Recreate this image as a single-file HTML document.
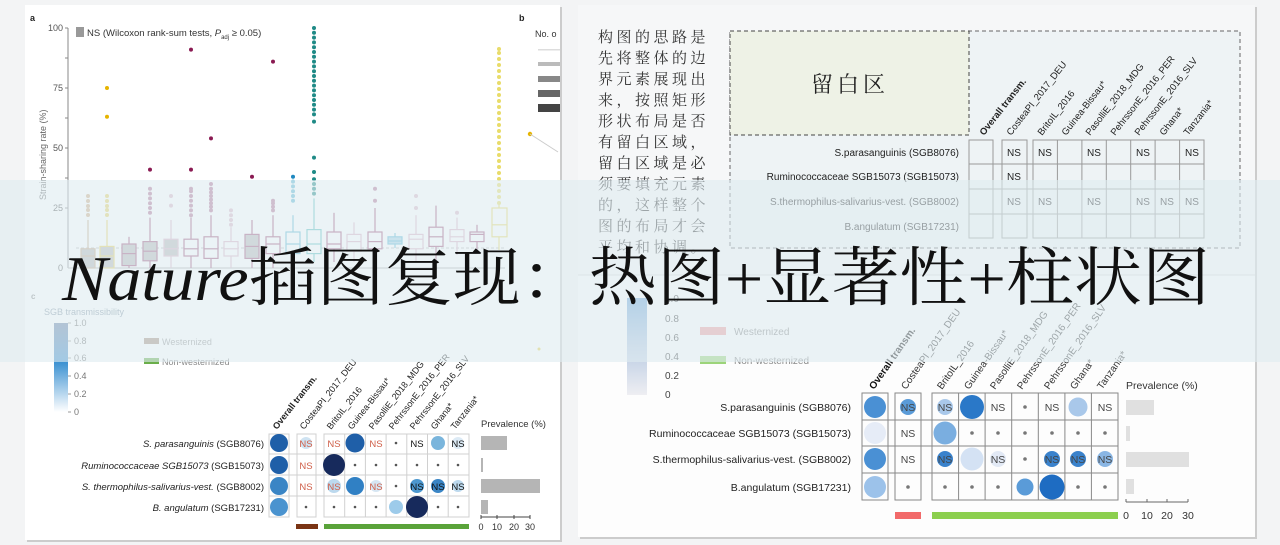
<!DOCTYPE html>
<html><head><meta charset="utf-8"><style>
html,body{margin:0;padding:0;background:#f3f4f5;}
svg{display:block;font-family:"Liberation Sans",Arial,sans-serif;}
</style></head><body>
<svg width="1280" height="545" viewBox="0 0 1280 545" xmlns="http://www.w3.org/2000/svg">
<defs>
<linearGradient id="cbL" x1="0" y1="0" x2="0" y2="1"><stop offset="0" stop-color="#6b83a8"/><stop offset="0.45" stop-color="#3f93d2"/><stop offset="1" stop-color="#ffffff"/></linearGradient>
<linearGradient id="cbR" x1="0" y1="0" x2="0" y2="1"><stop offset="0" stop-color="#6fa6d8"/><stop offset="0.5" stop-color="#b9cbe3"/><stop offset="1" stop-color="#eeeef2"/></linearGradient>
</defs>
<rect width="1280" height="545" fill="#f3f4f5"/>
<!-- left card -->
<rect x="27" y="7" width="535" height="535" fill="#ccc"/>
<rect x="25" y="5" width="535" height="535" fill="#fff"/>
<!-- right cards -->
<rect x="580" y="7" width="677" height="532" fill="#ccc"/>
<rect x="578" y="5" width="677" height="270" fill="#f6f7f8"/>
<rect x="578" y="275" width="677" height="262" fill="#fdfdfd"/>
<line x1="578" y1="275" x2="1255" y2="275" stroke="#d8d8d8"/>

<!-- ===== Panel a ===== -->
<text x="30" y="21" font-size="9" font-weight="bold" fill="#222">a</text>
<g font-size="9" fill="#555" text-anchor="end">
<text x="63" y="31">100</text><text x="63" y="91">75</text><text x="63" y="151">50</text><text x="63" y="211">25</text><text x="63" y="271">0</text>
</g>
<line x1="68" y1="28" x2="68" y2="268" stroke="#888"/>
<line x1="68" y1="268" x2="505" y2="268" stroke="#aaa"/>
<g stroke="#888"><line x1="65" y1="28" x2="68" y2="28"/><line x1="65" y1="88" x2="68" y2="88"/><line x1="65" y1="148" x2="68" y2="148"/><line x1="65" y1="208" x2="68" y2="208"/><line x1="65" y1="58" x2="68" y2="58"/><line x1="65" y1="118" x2="68" y2="118"/><line x1="65" y1="178" x2="68" y2="178"/></g>
<text transform="translate(46,200) rotate(-90)" font-size="9" fill="#666">Strain-sharing rate (%)</text>
<rect x="76" y="27" width="8" height="10" fill="#999"/>
<text x="87" y="36" font-size="9.5" fill="#333">NS (Wilcoxon rank-sum tests, <tspan font-style="italic">P</tspan><tspan font-size="6" dy="3">adj</tspan><tspan dy="-3"> ≥ 0.05)</tspan></text>
<line x1="76" y1="248" x2="505" y2="248" stroke="#bbb" stroke-dasharray="3,2"/>
<g stroke-width="1.2" fill="none">
<!-- boxes: whisker, box, median -->
<g stroke="#c8a98a"><line x1="88" y1="220" x2="88" y2="268"/><rect x="81" y="248.8" width="14" height="19.2" fill="#b9b9b9"/><line x1="81" y1="256" x2="95" y2="256"/></g>
<g stroke="#e6cf60"><line x1="107" y1="220" x2="107" y2="268"/><rect x="100" y="246.4" width="14" height="21.6" fill="#bcbcbc"/><line x1="100" y1="256" x2="114" y2="256"/></g>
<g stroke="#a3587f"><line x1="129" y1="236.8" x2="129" y2="268"/><rect x="122" y="244" width="14" height="21.6" fill="#bcbcbc"/><line x1="122" y1="253.6" x2="136" y2="253.6"/></g>
<g stroke="#a3587f"><line x1="150" y1="217.6" x2="150" y2="268"/><rect x="143" y="241.6" width="14" height="19.2" fill="#bcbcbc"/><line x1="143" y1="251.2" x2="157" y2="251.2"/></g>
<g stroke="#dcb3c6"><line x1="171" y1="220" x2="171" y2="268"/><rect x="164" y="239.2" width="14" height="16.8" fill="#bcbcbc"/><line x1="164" y1="248.8" x2="178" y2="248.8"/></g>
<g stroke="#a3587f"><line x1="191" y1="217.6" x2="191" y2="268"/><rect x="184" y="239.2" width="14" height="16.8" fill="#fff"/><line x1="184" y1="248.8" x2="198" y2="248.8"/></g>
<g stroke="#a3587f"><line x1="211" y1="215.2" x2="211" y2="268"/><rect x="204" y="236.8" width="14" height="21.6" fill="#fff"/><line x1="204" y1="248.8" x2="218" y2="248.8"/></g>
<g stroke="#dcb3c6"><line x1="231" y1="227.2" x2="231" y2="268"/><rect x="224" y="241.6" width="14" height="14.4" fill="#fff"/><line x1="224" y1="248.8" x2="238" y2="248.8"/></g>
<g stroke="#a3587f"><line x1="252" y1="220" x2="252" y2="268"/><rect x="245" y="234.4" width="14" height="24" fill="#bcbcbc"/><line x1="245" y1="246.4" x2="259" y2="246.4"/></g>
<g stroke="#a3587f"><line x1="273" y1="215.2" x2="273" y2="268"/><rect x="266" y="236.8" width="14" height="16.8" fill="#fff"/><line x1="266" y1="244" x2="280" y2="244"/></g>
<g stroke="#5fb8d6"><line x1="293" y1="215.2" x2="293" y2="262"/><rect x="286" y="232" width="14" height="21.6" fill="#fff"/><line x1="286" y1="244" x2="300" y2="244"/></g>
<g stroke="#5fc0c0"><line x1="314" y1="198.4" x2="314" y2="262"/><rect x="307" y="229.6" width="14" height="24" fill="#fff"/><line x1="307" y1="244" x2="321" y2="244"/></g>
<g stroke="#a3587f"><line x1="334" y1="212.8" x2="334" y2="262"/><rect x="327" y="232" width="14" height="16.8" fill="#fff"/><line x1="327" y1="244" x2="341" y2="244"/></g>
<g stroke="#dcb3c6"><line x1="354" y1="222.4" x2="354" y2="262"/><rect x="347" y="234.4" width="14" height="16.8" fill="#fff"/><line x1="347" y1="241.6" x2="361" y2="241.6"/></g>
<g stroke="#a3587f"><line x1="375" y1="208" x2="375" y2="262"/><rect x="368" y="232" width="14" height="16.8" fill="#fff"/><line x1="368" y1="241.6" x2="382" y2="241.6"/></g>
<g stroke="#5fb8d6"><line x1="395" y1="233" x2="395" y2="248"/><rect x="388" y="236.8" width="14" height="7.2" fill="#a8d4e8"/><line x1="388" y1="241" x2="402" y2="241"/></g>
<g stroke="#dcb3c6"><line x1="416" y1="215.2" x2="416" y2="262"/><rect x="409" y="234.4" width="14" height="14.4" fill="#fff"/><line x1="409" y1="239.2" x2="423" y2="239.2"/></g>
<g stroke="#a3587f"><line x1="436" y1="205.6" x2="436" y2="262"/><rect x="429" y="227.2" width="14" height="19.2" fill="#fff"/><line x1="429" y1="236.8" x2="443" y2="236.8"/></g>
<g stroke="#dcb3c6"><line x1="457" y1="217.6" x2="457" y2="255"/><rect x="450" y="229.6" width="14" height="12" fill="#fff"/><line x1="450" y1="236.8" x2="464" y2="236.8"/></g>
<g stroke="#a3587f"><line x1="477" y1="224.8" x2="477" y2="251"/><rect x="470" y="232" width="14" height="9.6" fill="#fff"/><line x1="470" y1="234.4" x2="484" y2="234.4"/></g>
<g stroke="#e6d868"><line x1="499" y1="205" x2="499" y2="250"/><rect x="492" y="208" width="15" height="28.8" fill="#fff"/><line x1="492" y1="224.8" x2="507" y2="224.8"/></g>
</g>
<!-- outliers -->
<g fill="#d2b08c"><circle cx="88" cy="215" r="2"/><circle cx="88" cy="210" r="2"/><circle cx="88" cy="206" r="2"/><circle cx="88" cy="201" r="2"/><circle cx="88" cy="196" r="2"/></g>
<g fill="#e8d36a"><circle cx="107" cy="215" r="2"/><circle cx="107" cy="210" r="2"/><circle cx="107" cy="206" r="2"/><circle cx="107" cy="201" r="2"/><circle cx="107" cy="196" r="2"/></g>
<g fill="#e6b400"><circle cx="107" cy="116.8" r="2"/><circle cx="107" cy="88" r="2"/></g>
<g fill="#b67898"><circle cx="150" cy="212.8" r="2"/><circle cx="150" cy="208" r="2"/><circle cx="150" cy="203.2" r="2"/><circle cx="150" cy="198.4" r="2"/><circle cx="150" cy="193.6" r="2"/><circle cx="150" cy="188.8" r="2"/>
<circle cx="191" cy="215.2" r="2"/><circle cx="191" cy="210.4" r="2"/><circle cx="191" cy="205.6" r="2"/><circle cx="191" cy="200.8" r="2"/><circle cx="191" cy="196" r="2"/><circle cx="191" cy="191.2" r="2"/><circle cx="191" cy="188.8" r="2"/>
<circle cx="211" cy="210.4" r="2"/><circle cx="211" cy="206.8" r="2"/><circle cx="211" cy="203.2" r="2"/><circle cx="211" cy="199.6" r="2"/><circle cx="211" cy="196" r="2"/><circle cx="211" cy="192.4" r="2"/><circle cx="211" cy="188.8" r="2"/><circle cx="211" cy="184" r="2"/>
<circle cx="273" cy="210.4" r="2"/><circle cx="273" cy="206.8" r="2"/><circle cx="273" cy="203.2" r="2"/><circle cx="273" cy="200.8" r="2"/>
<circle cx="375" cy="200.8" r="2"/><circle cx="375" cy="188.8" r="2"/></g>
<g fill="#dcb8c8"><circle cx="171" cy="205.6" r="2"/><circle cx="171" cy="196" r="2"/><circle cx="231" cy="224.8" r="2"/><circle cx="231" cy="220" r="2"/><circle cx="231" cy="215.2" r="2"/><circle cx="231" cy="210.4" r="2"/><circle cx="416" cy="208" r="2"/><circle cx="416" cy="196" r="2"/><circle cx="457" cy="212.8" r="2"/></g>
<g fill="#8a1a52"><circle cx="150" cy="169.6" r="2"/><circle cx="191" cy="169.6" r="2"/><circle cx="191" cy="49.6" r="2"/><circle cx="211" cy="138.4" r="2"/><circle cx="252" cy="176.8" r="2"/><circle cx="273" cy="61.6" r="2"/></g>
<g fill="#5fb8d6"><circle cx="293" cy="200.8" r="2"/><circle cx="293" cy="196" r="2"/><circle cx="293" cy="191.2" r="2"/><circle cx="293" cy="186.4" r="2"/><circle cx="293" cy="181.6" r="2"/></g>
<circle cx="293" cy="176.8" r="2" fill="#1e88c0"/>
<g fill="#1f8a86"><circle cx="314" cy="193.6" r="2"/><circle cx="314" cy="188.8" r="2"/><circle cx="314" cy="184" r="2"/><circle cx="314" cy="179.2" r="2"/><circle cx="314" cy="172" r="2"/><circle cx="314" cy="157.6" r="2"/><circle cx="314" cy="121.6" r="2"/><circle cx="314" cy="114.4" r="2"/><circle cx="314" cy="109.6" r="2"/><circle cx="314" cy="104.8" r="2"/><circle cx="314" cy="100" r="2"/><circle cx="314" cy="95.2" r="2"/><circle cx="314" cy="90.4" r="2"/><circle cx="314" cy="85.6" r="2"/><circle cx="314" cy="80.8" r="2"/><circle cx="314" cy="76" r="2"/><circle cx="314" cy="71.2" r="2"/><circle cx="314" cy="66.4" r="2"/><circle cx="314" cy="61.6" r="2"/><circle cx="314" cy="56.8" r="2"/><circle cx="314" cy="52" r="2"/><circle cx="314" cy="47.2" r="2"/><circle cx="314" cy="42.4" r="2"/><circle cx="314" cy="37.6" r="2"/><circle cx="314" cy="32.8" r="2"/><circle cx="314" cy="28" r="2"/></g>
<g fill="#e8dc6a"><circle cx="499" cy="203" r="2"/><circle cx="499" cy="197" r="2"/><circle cx="499" cy="191" r="2"/><circle cx="499" cy="185" r="2"/><circle cx="499" cy="179" r="2"/><circle cx="499" cy="173" r="2"/><circle cx="499" cy="167" r="2"/><circle cx="499" cy="161" r="2"/><circle cx="499" cy="155" r="2"/><circle cx="499" cy="149" r="2"/><circle cx="499" cy="143" r="2"/><circle cx="499" cy="137" r="2"/><circle cx="499" cy="131" r="2"/><circle cx="499" cy="125" r="2"/><circle cx="499" cy="119" r="2"/><circle cx="499" cy="113" r="2"/><circle cx="499" cy="107" r="2"/><circle cx="499" cy="101" r="2"/><circle cx="499" cy="95" r="2"/><circle cx="499" cy="89" r="2"/><circle cx="499" cy="83" r="2"/><circle cx="499" cy="77" r="2"/><circle cx="499" cy="71" r="2"/><circle cx="499" cy="65" r="2"/><circle cx="499" cy="59" r="2"/><circle cx="499" cy="53" r="2"/><circle cx="499" cy="49" r="2"/></g>
<!-- panel b fragment -->
<text x="519" y="21" font-size="9" font-weight="bold" fill="#222">b</text>
<text x="535" y="37" font-size="9" fill="#333">No. o</text>
<rect x="538" y="49" width="22" height="1.5" fill="#ddd"/><rect x="538" y="62" width="22" height="4" fill="#bbb"/><rect x="538" y="76" width="22" height="6" fill="#888"/><rect x="538" y="90" width="22" height="7" fill="#666"/><rect x="538" y="104" width="22" height="8" fill="#444"/>
<circle cx="530" cy="134" r="2.2" fill="#e6b400"/><line x1="530" y1="134" x2="558" y2="152" stroke="#ccc"/>
<circle cx="539" cy="349" r="1.5" fill="#e6d050"/>

<!-- ===== Panel c ===== -->
<text x="31" y="299" font-size="8" fill="#888" font-weight="bold">c</text>
<text x="44" y="315" font-size="9" fill="#8a9aa8">SGB transmissibility</text>
<rect x="54" y="323" width="14" height="89" fill="url(#cbL)"/>
<g font-size="9" fill="#777"><text x="74" y="326">1.0</text><text x="74" y="344">0.8</text><text x="74" y="361">0.6</text><text x="74" y="379">0.4</text><text x="74" y="397">0.2</text><text x="74" y="415">0</text></g>
<g stroke="#999"><line x1="68" y1="323" x2="71" y2="323"/><line x1="68" y1="341" x2="71" y2="341"/><line x1="68" y1="358" x2="71" y2="358"/><line x1="68" y1="376" x2="71" y2="376"/><line x1="68" y1="394" x2="71" y2="394"/><line x1="68" y1="412" x2="71" y2="412"/></g>
<rect x="144" y="338" width="15" height="6" fill="#a89080"/><text x="162" y="345" font-size="9" fill="#999">Westernized</text>
<rect x="144" y="358" width="15" height="6" fill="#6aae4a"/><text x="162" y="365" font-size="9" fill="#888">Non-westernized</text>
<!-- grid -->
<g fill="none" stroke="#d0d0d0">
<rect x="269" y="434" width="20" height="83"/><rect x="297" y="434" width="19" height="83"/><rect x="324" y="434" width="145" height="83"/>
<line x1="344.7" y1="434" x2="344.7" y2="517"/><line x1="365.4" y1="434" x2="365.4" y2="517"/><line x1="386.1" y1="434" x2="386.1" y2="517"/><line x1="406.8" y1="434" x2="406.8" y2="517"/><line x1="427.5" y1="434" x2="427.5" y2="517"/><line x1="448.2" y1="434" x2="448.2" y2="517"/>
<line x1="269" y1="454" x2="469" y2="454"/><line x1="269" y1="475" x2="469" y2="475"/><line x1="269" y1="496" x2="469" y2="496"/>
</g>
<g font-size="9.5" fill="#222" text-anchor="end">
<text x="264" y="447"><tspan font-style="italic">S. parasanguinis</tspan> (SGB8076)</text>
<text x="264" y="469"><tspan font-style="italic">Ruminococcaceae SGB15073</tspan> (SGB15073)</text>
<text x="264" y="490"><tspan font-style="italic">S. thermophilus-salivarius-vest.</tspan> (SGB8002)</text>
<text x="264" y="511"><tspan font-style="italic">B. angulatum</tspan> (SGB17231)</text>
</g>
<g font-size="9" fill="#222">
<text transform="translate(277,430) rotate(-52)" font-weight="bold">Overall transm.</text>
<text transform="translate(304,430) rotate(-52)">CosteaPI_2017_DEU</text>
<text transform="translate(331,430) rotate(-52)">BritoIL_2016</text>
<text transform="translate(352,430) rotate(-52)">Guinea-Bissau*</text>
<text transform="translate(373,430) rotate(-52)">PasolliE_2018_MDG</text>
<text transform="translate(393,430) rotate(-52)">PehrssonE_2016_PER</text>
<text transform="translate(414,430) rotate(-52)">PehrssonE_2016_SLV</text>
<text transform="translate(435,430) rotate(-52)">Ghana*</text>
<text transform="translate(455,430) rotate(-52)">Tanzania*</text>
</g>
<!-- circles left -->
<circle cx="279" cy="443" r="9" fill="#1f5fa8"/><circle cx="279" cy="465" r="9" fill="#1f5fa8"/><circle cx="279" cy="486" r="9" fill="#3a85c5"/><circle cx="279" cy="507" r="9" fill="#4a93cf"/>
<circle cx="306" cy="443" r="6" fill="#cfe3f2"/>
<circle cx="334" cy="486" r="7" fill="#bcd9ee"/>
<circle cx="355" cy="443" r="9.5" fill="#1f5fa8"/><circle cx="355" cy="486" r="9" fill="#3080c4"/>
<circle cx="334" cy="465" r="11" fill="#172a5c"/>
<circle cx="376" cy="486" r="6" fill="#d6e6f3"/>
<circle cx="417" cy="486" r="7" fill="#4d98cf"/><circle cx="438" cy="486" r="7" fill="#3a85c5"/><circle cx="458" cy="486" r="6" fill="#bcd9ee"/>
<circle cx="438" cy="443" r="7" fill="#7ab5dc"/><circle cx="458" cy="443" r="6" fill="#dceaf5"/>
<circle cx="396" cy="507" r="7" fill="#9dcbea"/><circle cx="417" cy="507" r="11" fill="#172a5c"/>
<g fill="#555"><circle cx="396" cy="443" r="1.3"/><circle cx="355" cy="465" r="1.3"/><circle cx="376" cy="465" r="1.3"/><circle cx="396" cy="465" r="1.3"/><circle cx="417" cy="465" r="1.3"/><circle cx="438" cy="465" r="1.3"/><circle cx="458" cy="465" r="1.3"/><circle cx="396" cy="486" r="1.3"/><circle cx="306" cy="507" r="1.3"/><circle cx="334" cy="507" r="1.3"/><circle cx="355" cy="507" r="1.3"/><circle cx="376" cy="507" r="1.3"/><circle cx="438" cy="507" r="1.3"/><circle cx="458" cy="507" r="1.3"/></g>
<g font-size="9.5" text-anchor="middle">
<g fill="#d0604a"><text x="306" y="447">NS</text><text x="306" y="469">NS</text><text x="306" y="490">NS</text><text x="334" y="447">NS</text><text x="376" y="447">NS</text><text x="334" y="490">NS</text><text x="376" y="490">NS</text></g>
<g fill="#111"><text x="417" y="447">NS</text><text x="458" y="447">NS</text><text x="417" y="490">NS</text><text x="438" y="490">NS</text><text x="458" y="490">NS</text></g>
</g>
<!-- prevalence left -->
<text x="481" y="427" font-size="9.5" fill="#333">Prevalence (%)</text>
<g fill="#b5b5b5"><rect x="481" y="436" width="26" height="14"/><rect x="481" y="458" width="2" height="14"/><rect x="481" y="479" width="59" height="14"/><rect x="481" y="500" width="7" height="14"/></g>
<line x1="481" y1="517" x2="530" y2="517" stroke="#444"/>
<g stroke="#444"><line x1="481" y1="515" x2="481" y2="519"/><line x1="497" y1="515" x2="497" y2="519"/><line x1="514" y1="515" x2="514" y2="519"/><line x1="530" y1="515" x2="530" y2="519"/></g>
<g font-size="9" fill="#333" text-anchor="middle"><text x="481" y="530">0</text><text x="497" y="530">10</text><text x="514" y="530">20</text><text x="530" y="530">30</text></g>
<rect x="296" y="524" width="22" height="5" fill="#7a3414"/>
<rect x="324" y="524" width="145" height="5" fill="#5aa33a"/>

<!-- ===== right top ===== -->
<g font-family="'Noto Serif CJK SC','Noto Sans CJK SC',serif" font-size="15" fill="#333" letter-spacing="3.5">
<text x="598" y="42">构图的思路是</text><text x="598" y="63">先将整体的边</text><text x="598" y="84">界元素展现出</text><text x="598" y="105">来，按照矩形</text><text x="598" y="126">形状布局是否</text><text x="598" y="147">有留白区域，</text><text x="598" y="168">留白区域是必</text><text x="598" y="189">须要填充元素</text><text x="598" y="210">的，这样整个</text><text x="598" y="231">图的布局才会</text><text x="598" y="252">平均和协调。</text>
</g>
<rect x="730" y="31" width="510" height="217" fill="#eef3f5" stroke="#666" stroke-dasharray="4,3"/>
<rect x="730" y="31" width="239" height="104" fill="#eef2e6" stroke="#444" stroke-dasharray="4,3"/>
<text x="850" y="92" font-size="22" text-anchor="middle" fill="#222" font-family="'Noto Serif CJK SC',serif" letter-spacing="4">留白区</text>
<g fill="none" stroke="#999">
<rect x="969" y="140" width="24" height="98"/><rect x="1002" y="140" width="25" height="98"/><rect x="1033" y="140" width="171" height="98"/>
<line x1="1057.4" y1="140" x2="1057.4" y2="238"/><line x1="1081.9" y1="140" x2="1081.9" y2="238"/><line x1="1106.3" y1="140" x2="1106.3" y2="238"/><line x1="1130.7" y1="140" x2="1130.7" y2="238"/><line x1="1155.1" y1="140" x2="1155.1" y2="238"/><line x1="1179.6" y1="140" x2="1179.6" y2="238"/>
<line x1="969" y1="164" x2="1204" y2="164"/><line x1="969" y1="189" x2="1204" y2="189"/><line x1="969" y1="214" x2="1204" y2="214"/>
</g>
<g font-size="10" fill="#222" text-anchor="end">
<text x="959" y="156">S.parasanguinis (SGB8076)</text><text x="959" y="180">Ruminococcaceae SGB15073 (SGB15073)</text><text x="959" y="205">S.thermophilus-salivarius-vest. (SGB8002)</text><text x="959" y="230">B.angulatum (SGB17231)</text>
</g>
<g font-size="9.5" fill="#222">
<text transform="translate(984,136) rotate(-52)" font-weight="bold">Overall transm.</text>
<text transform="translate(1011,136) rotate(-52)">CosteaPI_2017_DEU</text>
<text transform="translate(1042,136) rotate(-52)">BritoIL_2016</text>
<text transform="translate(1066,136) rotate(-52)">Guinea-Bissau*</text>
<text transform="translate(1090,136) rotate(-52)">PasolliE_2018_MDG</text>
<text transform="translate(1115,136) rotate(-52)">PehrssonE_2016_PER</text>
<text transform="translate(1139,136) rotate(-52)">PehrssonE_2016_SLV</text>
<text transform="translate(1164,136) rotate(-52)">Ghana*</text>
<text transform="translate(1188,136) rotate(-52)">Tanzania*</text>
</g>
<g font-size="10" fill="#222" text-anchor="middle">
<text x="1014" y="156">NS</text><text x="1014" y="180">NS</text><text x="1014" y="205">NS</text>
<text x="1045" y="156">NS</text><text x="1094" y="156">NS</text><text x="1143" y="156">NS</text><text x="1192" y="156">NS</text>
<text x="1045" y="205">NS</text><text x="1094" y="205">NS</text><text x="1143" y="205">NS</text><text x="1167" y="205">NS</text><text x="1192" y="205">NS</text>
</g>

<!-- ===== right bottom ===== -->
<rect x="627" y="298" width="20" height="97" fill="url(#cbR)"/>
<g font-size="10" fill="#444"><text x="665" y="302">1.0</text><text x="665" y="322">0.8</text><text x="665" y="341">0.6</text><text x="665" y="360">0.4</text><text x="665" y="379">0.2</text><text x="665" y="398">0</text></g>
<rect x="700" y="327" width="26" height="8" fill="#f0a0a0"/><text x="734" y="335" font-size="10" fill="#888">Westernized</text>
<rect x="700" y="356" width="26" height="8" fill="#9cd47a"/><text x="734" y="364" font-size="10" fill="#888">Non-westernized</text>
<g fill="none" stroke="#888">
<rect x="862" y="393" width="26" height="107"/><rect x="895" y="393" width="26" height="107"/><rect x="932" y="393" width="186" height="107"/>
<line x1="958.6" y1="393" x2="958.6" y2="500"/><line x1="985.1" y1="393" x2="985.1" y2="500"/><line x1="1011.7" y1="393" x2="1011.7" y2="500"/><line x1="1038.3" y1="393" x2="1038.3" y2="500"/><line x1="1064.9" y1="393" x2="1064.9" y2="500"/><line x1="1091.4" y1="393" x2="1091.4" y2="500"/>
<line x1="862" y1="420" x2="1118" y2="420"/><line x1="862" y1="446" x2="1118" y2="446"/><line x1="862" y1="473" x2="1118" y2="473"/>
</g>
<g font-size="10.5" fill="#222" text-anchor="end">
<text x="851" y="411">S.parasanguinis (SGB8076)</text><text x="851" y="437">Ruminococcaceae SGB15073 (SGB15073)</text><text x="851" y="463">S.thermophilus-salivarius-vest. (SGB8002)</text><text x="851" y="491">B.angulatum (SGB17231)</text>
</g>
<g font-size="10" fill="#333">
<text transform="translate(874,390) rotate(-55)" font-weight="bold" fill="#111">Overall transm.</text>
<text transform="translate(906,390) rotate(-55)">CosteaPI_2017_DEU</text>
<text transform="translate(942,390) rotate(-55)">BritoIL_2016</text>
<text transform="translate(969,390) rotate(-55)">Guinea-Bissau*</text>
<text transform="translate(995,390) rotate(-55)">PasolliE_2018_MDG</text>
<text transform="translate(1022,390) rotate(-55)">PehrssonE_2016_PER</text>
<text transform="translate(1049,390) rotate(-55)">PehrssonE_2016_SLV</text>
<text transform="translate(1075,390) rotate(-55)">Ghana*</text>
<text transform="translate(1102,390) rotate(-55)">Tanzania*</text>
</g>
<circle cx="875" cy="407" r="11" fill="#4a90d4"/><circle cx="875" cy="433" r="11" fill="#e6ecf7"/><circle cx="875" cy="459" r="11" fill="#4a90d4"/><circle cx="875" cy="487" r="11" fill="#9cc2ea"/>
<circle cx="908" cy="407" r="8" fill="#5a9bd8"/>
<circle cx="945" cy="407" r="8" fill="#a9c8ea"/><circle cx="972" cy="407" r="12" fill="#2a78c8"/><circle cx="1078" cy="407" r="9.5" fill="#a9c8ea"/>
<circle cx="945" cy="433" r="11.5" fill="#7aaee0"/>
<circle cx="945" cy="459" r="8" fill="#3a82cc"/><circle cx="972" cy="459" r="11.5" fill="#d4e2f4"/><circle cx="998" cy="459" r="8" fill="#e2e9f5"/><circle cx="1052" cy="459" r="8" fill="#3a82cc"/><circle cx="1078" cy="459" r="8" fill="#3a82cc"/><circle cx="1105" cy="459" r="8" fill="#8ab6e4"/>
<circle cx="1025" cy="487" r="8.5" fill="#5a9bd8"/><circle cx="1052" cy="487" r="12.5" fill="#1e6cc2"/>
<g fill="#777"><circle cx="1025" cy="407" r="1.8"/><circle cx="972" cy="433" r="1.8"/><circle cx="998" cy="433" r="1.8"/><circle cx="1025" cy="433" r="1.8"/><circle cx="1052" cy="433" r="1.8"/><circle cx="1078" cy="433" r="1.8"/><circle cx="1105" cy="433" r="1.8"/><circle cx="1025" cy="459" r="1.8"/><circle cx="908" cy="487" r="1.8"/><circle cx="945" cy="487" r="1.8"/><circle cx="972" cy="487" r="1.8"/><circle cx="998" cy="487" r="1.8"/><circle cx="1078" cy="487" r="1.8"/><circle cx="1105" cy="487" r="1.8"/></g>
<g font-size="10.5" fill="#444" text-anchor="middle">
<text x="908" y="411">NS</text><text x="945" y="411">NS</text><text x="998" y="411">NS</text><text x="1052" y="411">NS</text><text x="1105" y="411">NS</text>
<text x="908" y="437">NS</text>
<text x="908" y="463">NS</text><text x="945" y="463">NS</text><text x="998" y="463">NS</text><text x="1052" y="463">NS</text><text x="1078" y="463">NS</text><text x="1105" y="463">NS</text>
</g>
<text x="1126" y="389" font-size="10.5" fill="#333">Prevalence (%)</text>
<g fill="#e0e0e0"><rect x="1126" y="400" width="28" height="15"/><rect x="1126" y="426" width="4" height="15"/><rect x="1126" y="452" width="63" height="15"/><rect x="1126" y="479" width="8" height="15"/></g>
<line x1="1126" y1="502" x2="1188" y2="502" stroke="#666"/>
<g stroke="#666"><line x1="1126" y1="499" x2="1126" y2="502"/><line x1="1147" y1="499" x2="1147" y2="502"/><line x1="1167" y1="499" x2="1167" y2="502"/><line x1="1188" y1="499" x2="1188" y2="502"/></g>
<g font-size="10.5" fill="#333" text-anchor="middle"><text x="1126" y="519">0</text><text x="1147" y="519">10</text><text x="1167" y="519">20</text><text x="1188" y="519">30</text></g>
<rect x="895" y="512" width="26" height="7" fill="#f26a6a"/>
<rect x="932" y="512" width="186" height="7" fill="#8ccf4e"/>

<!-- ===== banner ===== -->
<rect x="0" y="180" width="1280" height="182" fill="#dfecf1" fill-opacity="0.62"/>
<text x="62" y="300" font-size="64" fill="#111" textLength="1148" lengthAdjust="spacingAndGlyphs" font-family="'Liberation Serif','Noto Serif CJK SC',serif"><tspan font-style="italic">Nature</tspan>插图复现：热图+显著性+柱状图</text>
</svg>
</body></html>
